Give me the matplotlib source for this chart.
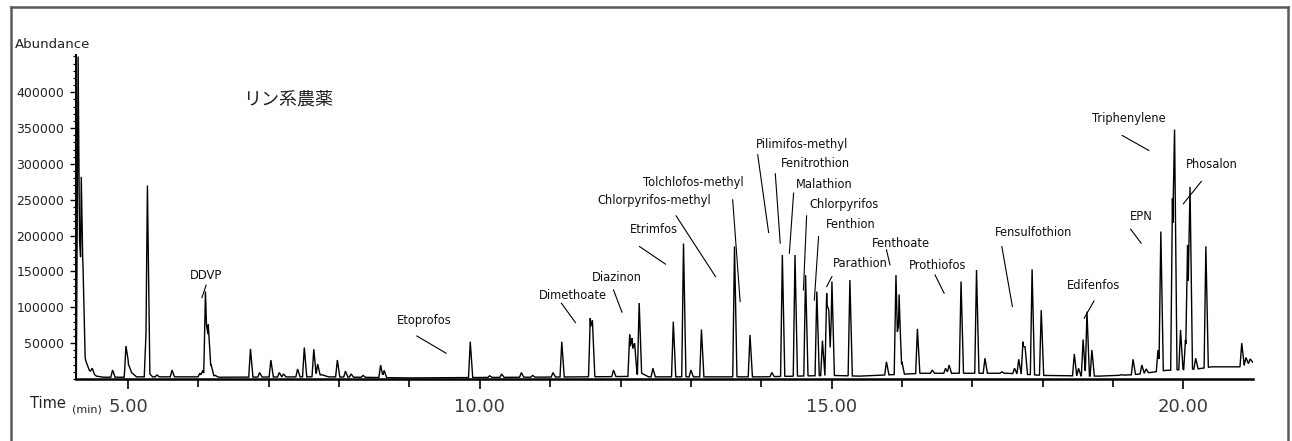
import numpy as np
import matplotlib.pyplot as plt
from matplotlib.lines import Line2D
from matplotlib.ticker import FixedLocator, MultipleLocator, FuncFormatter

# ---------- DATA ----------
# peak apex: retention time (min) and abundance
peak_rt = [4.29, 4.335, 4.355, 4.49, 4.78, 4.97, 5.255, 5.275, 5.41, 5.625,
           6.02, 6.06, 6.10, 6.14, 6.24, 6.74, 6.87, 7.03, 7.15, 7.21,
           7.41, 7.505, 7.64, 7.695, 7.975, 8.09, 8.17, 8.34, 8.59, 8.64,
           9.864, 10.14, 10.31, 10.59, 10.75, 11.04, 11.165, 11.57, 11.60, 11.90,
           12.13, 12.165, 12.20, 12.265, 12.46, 12.75, 12.895, 13.00, 13.15, 13.62,
           13.84, 14.15, 14.30, 14.48, 14.63, 14.79, 14.87, 14.93, 14.96, 15.005,
           15.26, 15.78, 15.915, 15.96, 16.00, 16.22, 16.43, 16.62, 16.67, 16.84,
           17.06, 17.18, 17.42, 17.60, 17.66, 17.72, 17.75, 17.85, 17.98, 18.45,
           18.51, 18.575, 18.63, 18.70, 19.12, 19.285, 19.41, 19.47, 19.64, 19.68,
           19.845, 19.875, 19.96, 20.03, 20.06, 20.095, 20.175, 20.32, 20.83, 20.89,
           20.95]
peak_height = [450000, 282000, 170000, 15000, 12500, 46000, 64000, 270000, 5600, 12500,
               8000, 12000, 122000, 76000, 5000, 42000, 9000, 26500, 9000, 7000,
               14000, 44000, 41500, 21000, 26500, 11000, 7000, 5000, 19500, 12000,
               52000, 4500, 7000, 9000, 5000, 9000, 52000, 85000, 82000, 12500,
               62000, 57000, 50000, 106000, 15000, 80000, 189000, 12500, 69000, 185000,
               61500, 9000, 173000, 173000, 145000, 122000, 53500, 119700, 96000, 136000,
               138000, 24000, 145000, 118000, 24000, 70000, 12500, 15000, 19500, 136000,
               152000, 29000, 10000, 15000, 27500, 52000, 45000, 153000, 96000, 35000,
               15000, 55000, 94000, 40500, 6000, 27500, 19500, 14000, 40500, 205700,
               252000, 348000, 68400, 54500, 187000, 268000, 29000, 185000, 50000, 30000,
               28000]

# baseline level between peaks
base_rt = [4.26, 4.31, 4.36, 4.40, 4.45, 4.55, 4.65, 4.95, 5.00, 5.05,
           5.12, 5.25, 5.30, 5.35, 6.08, 6.18, 6.22, 6.30, 7.60, 7.75,
           7.85, 9.00, 9.80, 11.50, 12.10, 12.30, 12.40, 14.00, 15.00, 15.40,
           16.30, 17.50, 18.00, 18.80, 19.30, 19.60, 19.75, 20.20, 20.40, 20.80,
           21.00]
base_level = [2000, 2000, 45000, 25000, 12000, 4000, 2500, 2500, 22000, 9000,
              3000, 3000, 8000, 3000, 3000, 20000, 4000, 2500, 3000, 6000,
              3000, 1500, 2000, 3000, 3500, 8000, 3000, 3000, 5000, 4000,
              8000, 8000, 5000, 4000, 6000, 10000, 12000, 14000, 17000, 17000,
              24000]

# compound labels: text centre and leader line ends (min, abundance)
label_names = ["DDVP", "Etoprofos", "Dimethoate", "Diazinon", "Etrimfos",
               "Chlorpyrifos-methyl", "Tolchlofos-methyl", "Pilimifos-methyl",
               "Fenitrothion", "Malathion", "Chlorpyrifos", "Fenthion", "Parathion",
               "Fenthoate", "Prothiofos", "Fensulfothion", "Edifenfos", "EPN",
               "Triphenylene", "Phosalon"]
label_t = [6.11, 9.21, 11.33, 11.95, 12.47, 12.48, 13.04, 14.577, 14.775, 14.90,
           15.18, 15.27, 15.415, 15.985, 16.51, 17.875, 18.72, 19.40, 19.22, 20.40]
label_a = [144000, 81000, 117000, 141500, 208000, 248600, 274200, 326800, 300300, 271000,
           243000, 215000, 160600, 189500, 157800, 204900, 130300, 226700, 363100, 298900]
lead_t0 = [6.05, 9.105, 11.16, 11.90, 12.27, 12.79, 13.594, 13.95, 14.20, 14.46,
           14.645, 14.815, 15.005, 15.78, 16.47, 17.42, 18.73, 19.25, 19.13, 20.255]
lead_a0 = [113500, 60000, 105700, 124300, 184800, 227600, 250000, 312800, 286300, 259300,
           227600, 198700, 142900, 180200, 145200, 184800, 108900, 209000, 339800, 275600]
lead_t1 = [6.11, 9.52, 11.36, 12.02, 12.64, 13.35, 13.70, 14.105, 14.27, 14.40,
           14.60, 14.755, 14.93, 15.83, 16.60, 17.57, 18.59, 19.40, 19.51, 20.00]
lead_a1 = [131000, 36000, 78600, 93200, 160200, 142900, 108000, 204300, 189500, 175500,
           124300, 110000, 128900, 159200, 119700, 101000, 84800, 189500, 318800, 244400]

x_major = [5, 10, 15, 20]
x_labels = ["5.00", "10.00", "15.00", "20.00"]
y_major = [50000, 100000, 150000, 200000, 250000, 300000, 350000, 400000]

# ---------- TRACE ----------
# each peak is a narrow spike on the baseline; overlapping spikes take the upper envelope
half_left, half_right = 0.025, 0.035
pts = set(base_rt)
for rt in peak_rt:
    pts.update([rt - half_left, rt, rt + half_right])
t = np.array(sorted(pts))
base = np.interp(t, base_rt, base_level)
signal = base.copy()
for rt, h in zip(peak_rt, peak_height):
    amp = h - np.interp(rt, base_rt, base_level)
    spike = base + amp * np.interp(t, [rt - half_left, rt, rt + half_right], [0, 1, 0],
                                   left=0, right=0)
    signal = np.maximum(signal, spike)

# ---------- PLOTTING ----------
W, H = 1292, 441
fig = plt.figure(figsize=(W / 100, H / 100), dpi=100)
ax = fig.add_axes([76 / W, 1 - 379 / H, (1253 - 76) / W, (379 - 55) / H])

ax.plot(t, signal, color="black", lw=1.0, solid_joinstyle="miter")
ax.set_xlim(4.26, 20.99)
ax.set_ylim(0, 452000)

for s in ["top", "right"]:
    ax.spines[s].set_visible(False)
ax.spines["left"].set_linewidth(1.4)
ax.spines["bottom"].set_linewidth(1.8)

ax.xaxis.set_major_locator(FixedLocator(x_major))
ax.set_xticklabels(x_labels)
ax.xaxis.set_minor_locator(MultipleLocator(1.0))
ax.tick_params(axis="x", which="major", direction="out", length=7, width=1.2,
               pad=7, labelsize=13, labelcolor="#3a3a3a")
ax.tick_params(axis="x", which="minor", direction="out", length=5.5, width=1.2)

ax.yaxis.set_major_locator(FixedLocator(y_major))
ax.yaxis.set_major_formatter(FuncFormatter(lambda v, p: f"{int(v)}"))
ax.yaxis.set_minor_locator(MultipleLocator(10000))
ax.tick_params(axis="y", which="major", direction="out", length=4.5, width=1.0,
               pad=4, labelsize=9, labelcolor="#222222")
ax.tick_params(axis="y", which="minor", direction="out", length=2.2, width=0.9)

# compound names with leader lines
for name, lt, la, x0, y0, x1, y1 in zip(label_names, label_t, label_a,
                                         lead_t0, lead_a0, lead_t1, lead_a1):
    ax.text(lt, la, name, ha="center", va="center", fontsize=8.3, color="#111111")
    ax.plot([x0, x1], [y0, y1], color="black", lw=0.8)

ax.text(7.27, 389600, "リン系農薬", ha="center", va="center", fontsize=13,
        family=["Noto Sans CJK JP", "DejaVu Sans"], color="#222222")

fig.text(15 / W, 1 - 44 / H, "Abundance", ha="left", va="center", fontsize=9.5,
         color="#222222")
fig.text(30 / W, 1 - 403 / H, "Time", ha="left", va="center", fontsize=10.5,
         color="#222222")
fig.text(72 / W, 1 - 409 / H, "(min)", ha="left", va="center", fontsize=8,
         color="#222222")

# outer frame
frame_kw = dict(color="#5a5a5a", lw=1.8, transform=fig.transFigure)
fig.add_artist(Line2D([10.7 / W, 1288 / W], [1 - 7 / H, 1 - 7 / H], **frame_kw))
fig.add_artist(Line2D([10.7 / W, 10.7 / W], [0, 1 - 7 / H], **frame_kw))
fig.add_artist(Line2D([1288 / W, 1288 / W], [0, 1 - 7 / H], **frame_kw))

fig.savefig("out.png", dpi=100, facecolor="white")
